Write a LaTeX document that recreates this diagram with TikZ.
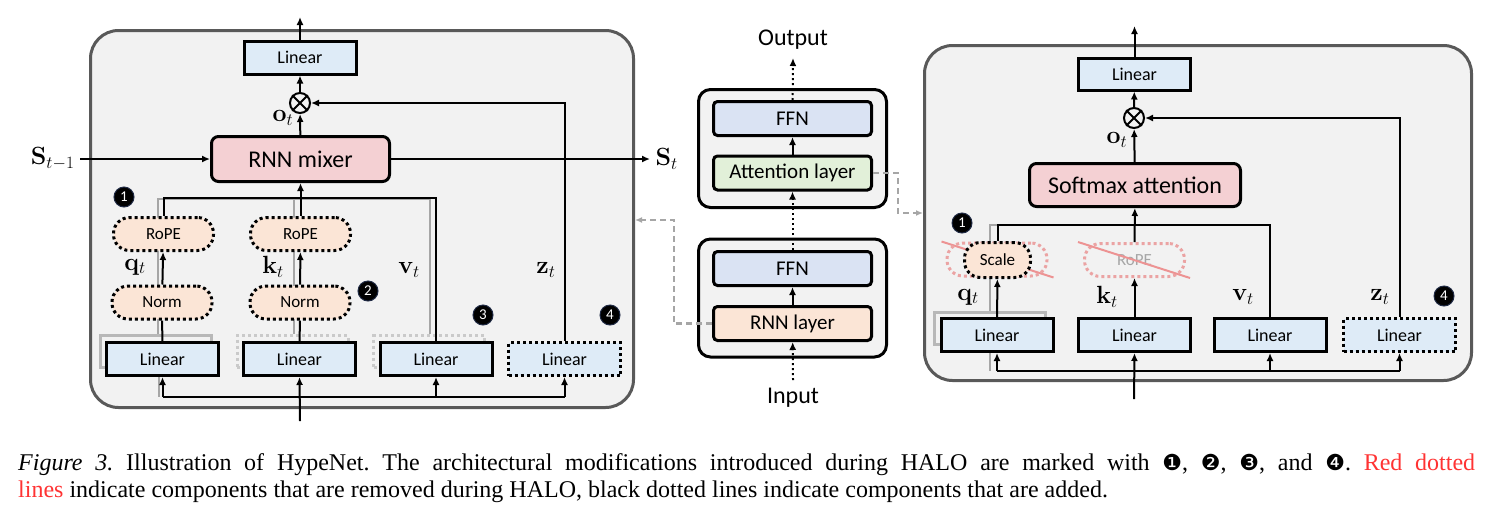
\documentclass[tikz,border=0pt]{standalone}
\usepackage[no-math]{fontspec}
\setmainfont{Carlito}
\newfontfamily\capfont{Liberation Serif}
\newfontfamily\dingfont{DejaVu Sans}
\usetikzlibrary{arrows.meta,positioning,calc}

\definecolor{panelgray}{HTML}{F2F2F2}
\definecolor{panelline}{HTML}{595959}
\definecolor{linblue}{HTML}{DEEBF7}
\definecolor{mixpink}{HTML}{F4D0D3}
\definecolor{peach}{HTML}{FBE5D6}
\definecolor{ffnblue}{HTML}{DAE3F3}
\definecolor{attgreen}{HTML}{E2F0D9}
\definecolor{oldgray}{HTML}{A6A6A6}
\definecolor{oldred}{HTML}{EBA3A3}
\definecolor{capred}{HTML}{FF3333}
\definecolor{badgeline}{HTML}{1F2A44}

\pgfdeclarelayer{back}
\pgfdeclarelayer{old}
\pgfsetlayers{back,old,main}

\newcommand{\halomark}[1]{{\dingfont\fontsize{22}{22}\selectfont #1}}

\tikzset{
  wire/.style={line width=2pt},
  arr/.style={wire,-{Latex[length=8pt,width=7pt]}},
  dotarr/.style={arr,dash pattern=on 2pt off 3pt},
  gconn/.style={draw=oldgray,line width=2.5pt,dash pattern=on 6pt off 4pt,-{Latex[length=7pt,width=6pt]}},
  oldline/.style={draw=oldgray,line width=2pt},
  panel/.style={draw=panelline,line width=3pt,fill=panelgray,rounded corners=28pt,inner sep=0pt},
  lin/.style={draw,line width=3pt,fill=linblue,minimum width=112pt,minimum height=33pt,inner sep=0pt,font=\fontsize{18}{20}\selectfont},
  newlin/.style={lin,dash pattern=on 3pt off 3pt},
  oldbox/.style={draw=oldgray!80,line width=3pt,minimum width=111pt,minimum height=32pt,inner sep=0pt},
  olddots/.style={oldbox,draw=oldgray!60,dash pattern=on 3pt off 3pt},
  pill/.style={draw,line width=3pt,dash pattern=on 3pt off 3pt,fill=peach,rounded corners=16pt,minimum width=100pt,minimum height=33pt,inner sep=0pt,font=\fontsize{17}{19}\selectfont},
  redpill/.style={draw=oldred,line width=3pt,dash pattern=on 3pt off 3pt,rounded corners=16pt,minimum width=100pt,minimum height=33pt,inner sep=0pt,text=oldgray,font=\fontsize{17}{19}\selectfont},
  strike/.style={draw=oldred!90!red,line width=2pt},
  mixbox/.style={draw,line width=3pt,fill=mixpink,rounded corners=7pt,minimum height=45pt,inner sep=0pt,font=\fontsize{24}{26}\selectfont},
  layerbox/.style={draw,line width=3pt,rounded corners=4pt,minimum width=158pt,minimum height=34pt,inner sep=0pt,font=\fontsize{21}{23}\selectfont},
  stack/.style={draw,line width=3pt,fill=panelgray,rounded corners=12pt,minimum width=188pt,minimum height=118pt,inner sep=0pt},
  mul/.style={draw,circle,line width=2pt,minimum size=20pt,inner sep=0pt},
  badge/.style={circle,fill=black,draw=badgeline,line width=1pt,minimum size=20pt,inner sep=0pt,text=white,font=\fontsize{15}{15}\selectfont},
  vlab/.style={font=\fontsize{26}{29}\selectfont},
  plain/.style={font=\fontsize{24}{26}\selectfont},
  captxt/.style={anchor=base west,inner sep=0pt,font=\capfont\fontsize{24}{27}\selectfont\frenchspacing},
}

\begin{document}
\begin{tikzpicture}[x=1pt,y=-1pt]
\useasboundingbox (0,0) rectangle (1493,523);

% panels
\begin{pgfonlayer}{back}
  \node[panel,minimum width=543pt,minimum height=377pt] (panelL) at (362,219) {};
  \node[panel,minimum width=547pt,minimum height=335pt] (panelR) at (1198,213) {};
  \node[stack] (stackU) at (792.5,148.5) {};
  \node[stack] (stackD) at (792.5,298) {};
\end{pgfonlayer}

% ---- RNN block
\node[lin] (linOL) at (300,57.5) {Linear};
\node[mul] (mulL) at (300,103) {};
\draw[wire] (mulL.north west) -- (mulL.south east) (mulL.north east) -- (mulL.south west);
\node[mixbox,minimum width=178pt] (mixer) at (300.5,159) {RNN mixer};

\node[oldbox] (gq) at (156,351.5) {};
\node[olddots] (gk) at (292.5,351.5) {};
\node[olddots] (gv) at (429,351.5) {};

\node[pill] (qRope) at (163.5,234) {RoPE};
\node[pill] (kRope) at (300.5,234) {RoPE};
\node[pill] (qNorm) at (162,302.5) {Norm};
\node[pill] (kNorm) at (300,302.5) {Norm};

\node[lin] (qLin) at (162.5,359) {Linear};
\node[lin] (kLin) at (299.5,359) {Linear};
\node[lin] (vLin) at (436,359) {Linear};
\node[newlin] (zLin) at (564.5,359) {Linear};

\coordinate (topL) at (300,199);
\coordinate (busL) at (300,397);
\coordinate (inL) at (300,421);
\coordinate (outL) at (300,17);
\coordinate (sPrev) at (80,159);
\coordinate (sNext) at (650,159);

\begin{pgfonlayer}{old}
  \draw[oldline] ([xshift=2pt]gq.north) |- ([xshift=1pt]gv.north |- topL) -- ([xshift=1pt]gv.north);
  \draw[oldline] ([xshift=1pt]gk.north |- topL) -- ([xshift=1pt]gk.north);
  \draw[oldline] ([xshift=-4pt]qLin.south) -- ([xshift=-4pt]qLin.south |- busL);
\end{pgfonlayer}

\draw[wire] (qLin) -- (qNorm);
\draw[arr] (qNorm) -- (qRope);
\draw[wire] (qRope.north) |- ([yshift=1pt]vLin.north |- topL) -- (vLin.north);
\draw[wire] (kLin) -- (kNorm);
\draw[arr] (kNorm) -- (kRope);
\draw[arr] (kRope) -- (mixer);
\draw[arr] (zLin.north) |- (mulL.east);
\draw[arr] (mixer) -- (mulL);
\draw[arr] (mulL) -- (linOL);
\draw[arr] (linOL) -- (outL);
\draw[arr] (sPrev) -- (mixer.west);
\draw[arr] (mixer.east) -- (sNext);
\draw[wire] (qLin.south |- busL) -- (zLin.south |- busL);
\foreach \n in {qLin,vLin,zLin} \draw[arr] (\n.south |- busL) -- (\n.south);
\draw[arr] (inL) -- (kLin.south);

\node[vlab] (oL) at (283,118) {$\mathbf{o}_t$};
\node[vlab,left=2pt of sPrev] (sPrevLab) {$\mathbf{S}_{t-1}$};
\node[vlab,right=2pt of sNext] (sNextLab) {$\mathbf{S}_t$};
\node[vlab] (qL) at (135,267) {$\mathbf{q}_t$};
\node[vlab] (kL) at (273,267) {$\mathbf{k}_t$};
\node[vlab] (vL) at (409,270) {$\mathbf{v}_t$};
\node[vlab] (zL) at (546,270) {$\mathbf{z}_t$};

\node[badge] (b1L) at (124,197) {1};
\node[badge] (b2L) at (368,291) {2};
\node[badge] (b3L) at (483,315) {3};
\node[badge] (b4L) at (610,315) {4};

% ---- hybrid stack
\node[layerbox,fill=ffnblue] (ffnU) at (792.5,118.5) {FFN};
\node[layerbox,fill=attgreen] (attn) at (792.5,173) {Attention layer};
\node[layerbox,fill=ffnblue] (ffnD) at (792.5,268.5) {FFN};
\node[layerbox,fill=peach] (rnnL) at (792.5,323.5) {RNN layer};
\node[plain] (outTxt) at (793,40) {Output};
\node[plain] (inTxt) at (793,398) {Input};
\coordinate (outTip) at (793,58);
\coordinate (inTail) at (793,380);

\draw[dotarr] (ffnU) -- (outTip);
\draw[arr] (attn) -- (ffnU);
\draw[dotarr] (ffnD) -- (attn);
\draw[arr] (rnnL) -- (ffnD);
\draw[dotarr] (inTail) -- (rnnL);

\coordinate (hookL) at (674,220);
\coordinate (hookR) at (898,213);
\draw[gconn] (rnnL.west) -| (hookL) -- (hookL -| panelL.east);
\draw[gconn] (attn.east) -| (hookR) -- (hookR -| panelR.west);

% ---- attention block
\node[lin,minimum height=32pt] (linOR) at (1134.5,74) {Linear};
\node[mul] (mulR) at (1134,118) {};
\draw[wire] (mulR.north west) -- (mulR.south east) (mulR.north east) -- (mulR.south west);
\node[mixbox,minimum width=211pt,minimum height=43pt] (soft) at (1135,185) {Softmax attention};

\node[oldbox] (gqR) at (990,328.5) {};
\node[redpill] (qRopeR) at (997,259.5) {};
\node[redpill] (kRopeR) at (1134.5,260) {RoPE};
\node[pill,minimum width=66pt,minimum height=35pt] (scale) at (997.5,260) {Scale};

\node[lin] (qLinR) at (997,335) {Linear};
\node[lin] (kLinR) at (1134.5,335) {Linear};
\node[lin] (vLinR) at (1270,335) {Linear};
\node[newlin] (zLinR) at (1399.5,335) {Linear};

\coordinate (topR) at (1134,225);
\coordinate (busR) at (1134,371);
\coordinate (inR) at (1134,399);
\coordinate (outR) at (1134.5,26);

\begin{pgfonlayer}{old}
  \draw[oldline] (gqR.north) |- (scale.north |- topR);
  \draw[oldline] ([xshift=-7pt]qLinR.south) -- ([xshift=-7pt]qLinR.south |- busR);
  \draw[strike] ([xshift=-4pt]qRopeR.north west) -- ([xshift=5pt]qRopeR.south east);
\end{pgfonlayer}
\draw[strike] ([xshift=-5pt]kRopeR.north west) -- ([xshift=4pt]kRopeR.south east);

\draw[arr] (qLinR) -- (scale);
\draw[wire] (scale.north) |- (vLinR.north |- topR) -- (vLinR.north);
\draw[arr] (kLinR) -- (kRopeR);
\draw[arr] (kRopeR) -- (soft);
\draw[arr] (zLinR.north) |- (mulR.east);
\draw[arr] (soft) -- (mulR);
\draw[arr] (mulR) -- (linOR);
\draw[arr] (linOR) -- (outR);
\draw[wire] (qLinR.south |- busR) -- (zLinR.south |- busR);
\foreach \n in {qLinR,vLinR,zLinR} \draw[arr] (\n.south |- busR) -- (\n.south);
\draw[arr] (inR) -- (kLinR.south);

\node[vlab] (oR) at (1117,140) {$\mathbf{o}_t$};
\node[vlab] (qR) at (968,297) {$\mathbf{q}_t$};
\node[vlab] (kR) at (1107,297) {$\mathbf{k}_t$};
\node[vlab] (vR) at (1243,297) {$\mathbf{v}_t$};
\node[vlab] (zR) at (1380,297) {$\mathbf{z}_t$};

\node[badge] (b1R) at (962,223) {1};
\node[badge] (b4R) at (1444,296) {4};

% caption
\node[captxt] (cap1) at (18,470)
  {\hbox to 1457pt{\textit{Figure 3.} Illustration of HypeNet. The architectural modifications introduced during HALO are marked with \halomark{❶}, \halomark{❷}, \halomark{❸}, and \halomark{❹}. \textcolor{capred}{Red dotted}}};
\node[captxt] (cap2) at (18,497)
  {\textcolor{capred}{lines} indicate components that are removed during HALO, black dotted lines indicate components that are added.};
\end{tikzpicture}
\end{document}
